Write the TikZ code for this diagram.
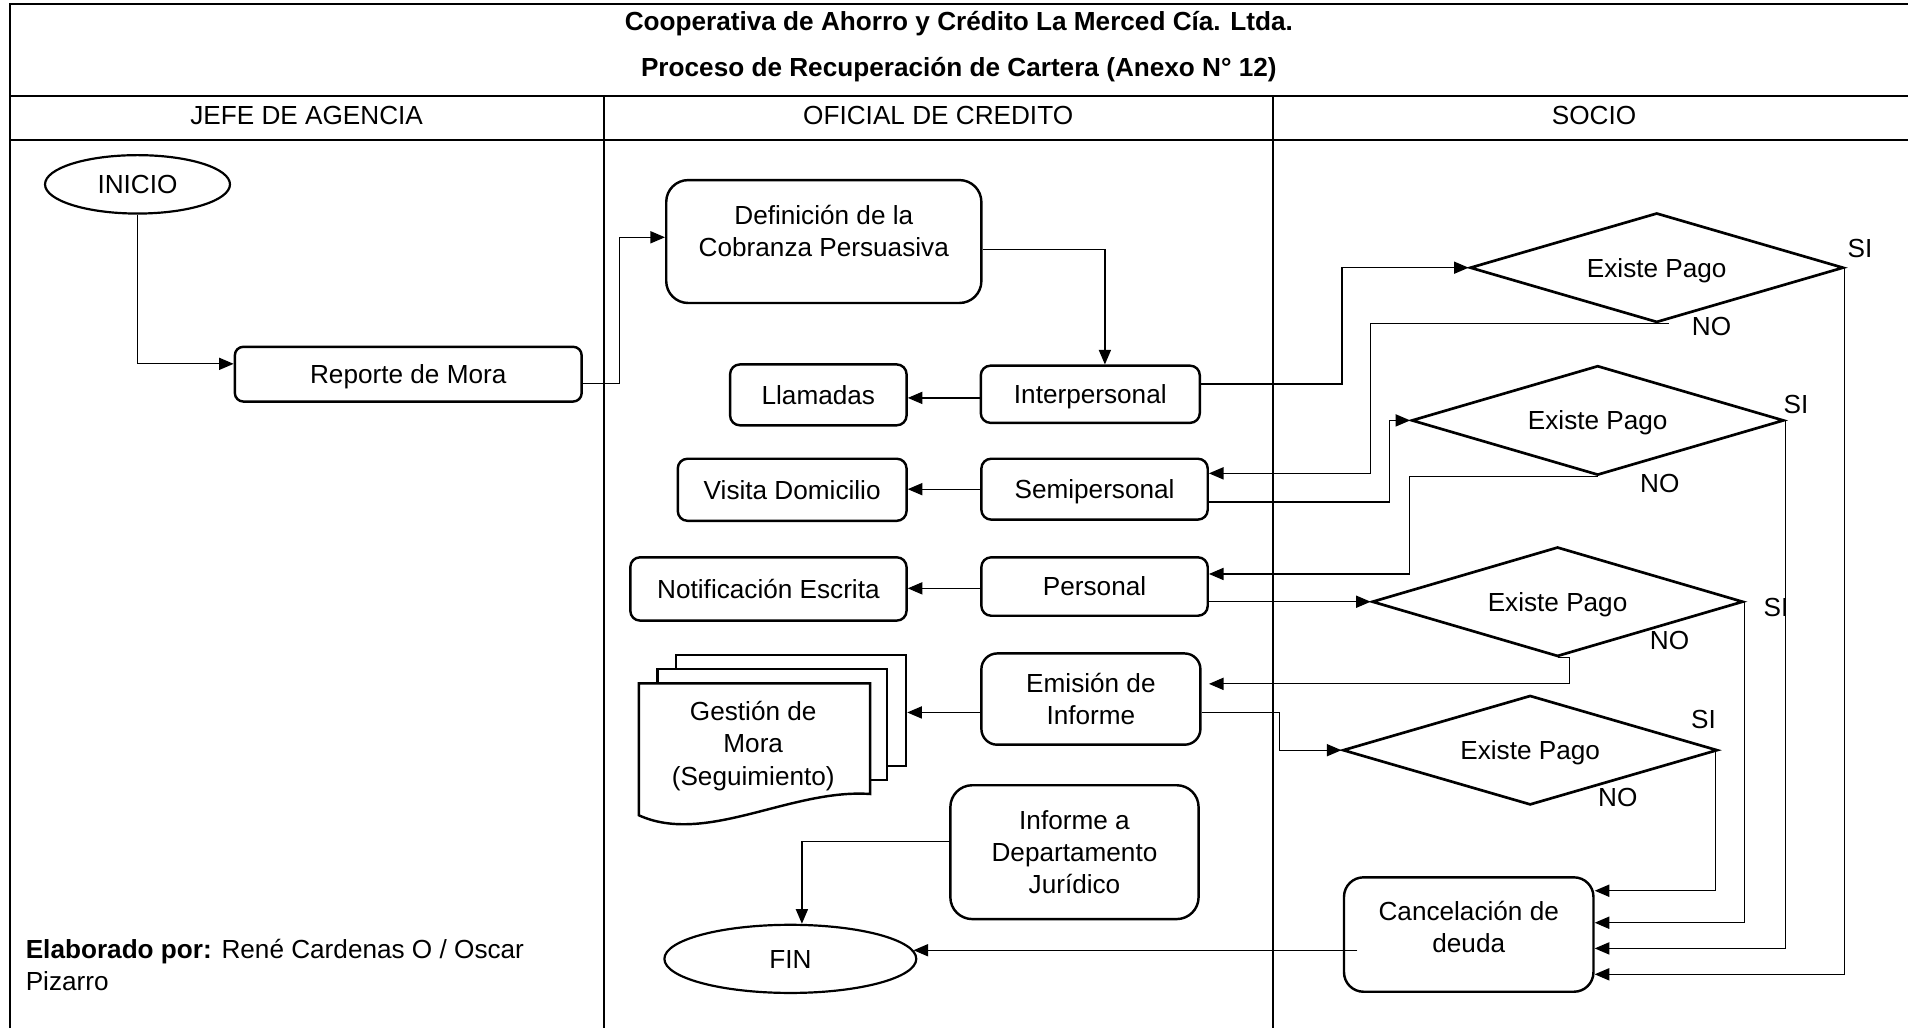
\documentclass[tikz,border=0pt]{standalone}
\usepackage{fontspec}
\setmainfont{Liberation Sans}
\usetikzlibrary{shapes.geometric,arrows.meta,calc}

\begin{document}
\begin{tikzpicture}[x=1pt,y=-1pt,
  txt/.style={font=\fontsize{21.5}{26.5}\selectfont, align=center, inner sep=0pt},
  one/.style={text height=15.5pt, text depth=0pt},
  proc/.style={draw, line width=2pt, rectangle, inner sep=0pt, txt},
  term/.style={draw, line width=1.8pt, ellipse, inner sep=0pt, txt, one},
  dec/.style={draw, line width=2.2pt, diamond, aspect=3.4, inner sep=0pt, txt, one},
  arr/.style={line width=1pt, -{Triangle[length=12pt,width=10pt]}},
  frame/.style={line width=1.6pt},
  lbl/.style={txt},
]
\useasboundingbox (0,0) rectangle (1568,845);

% ---- frame, title and swimlane headers
\draw[frame] (8,845) -- (8,3) -- (1568,3);
\draw[frame] (8,79) -- (1568,79);
\draw[frame] (8,115) -- (1568,115);
\draw[frame] (496.5,79) -- (496.5,845);
\draw[frame] (1046,79) -- (1046,845);

\node[txt, one, font=\fontsize{21.5}{26.5}\selectfont\bfseries] (title1) at (788,17) {Cooperativa de Ahorro y Crédito La Merced Cía. Ltda.};
\node[txt, one, font=\fontsize{21.5}{26.5}\selectfont\bfseries] (title2) at (788,55) {Proceso de Recuperación de Cartera (Anexo N° 12)};
\node[txt, one] (lane1) at (252,94.5) {JEFE DE AGENCIA};
\node[txt, one] (lane2) at (771,94.5) {OFICIAL DE CREDITO};
\node[txt, one] (lane3) at (1310,94.5) {SOCIO};

% ---- JEFE DE AGENCIA
\node[term, minimum width=152pt, minimum height=48pt] (inicio) at (113,151.5) {INICIO};
\node[proc, one, minimum width=285pt, minimum height=45pt, rounded corners=7pt] (reporte) at (335.5,307.5) {Reporte de Mora};
\node[txt, anchor=west, align=left] (autor) at (21,793)
  {\textbf{Elaborado por:} René Cardenas O / Oscar\\Pizarro};

% ---- OFICIAL DE CREDITO
\node[draw, line width=2pt, minimum width=259pt, minimum height=101pt, rounded corners=18pt] (defin) at (677,198.5) {};
\node[txt] (defintxt) at (677,190) {Definición de la\\Cobranza Persuasiva};
\node[proc, one, minimum width=180pt, minimum height=47pt, rounded corners=8pt] (interp) at (896,324) {Interpersonal};
\node[proc, one, minimum width=145pt, minimum height=50pt, rounded corners=8pt] (llam) at (672.5,324.5) {Llamadas};
\node[proc, one, minimum width=188pt, minimum height=51pt, rounded corners=8pt] (visita) at (651,402.5) {Visita Domicilio};
\node[proc, one, minimum width=186pt, minimum height=50pt, rounded corners=8pt] (semi) at (899.5,402) {Semipersonal};
\node[proc, one, minimum width=227pt, minimum height=52pt, rounded corners=8pt] (notif) at (631.5,484) {Notificación Escrita};
\node[proc, one, minimum width=186pt, minimum height=48pt, rounded corners=8pt] (personal) at (899.5,482) {Personal};
\node[proc, minimum width=180pt, minimum height=75pt, rounded corners=13pt] (emision) at (896.5,574.5) {Emisión de\\Informe};
\node[proc, minimum width=204pt, minimum height=110pt, rounded corners=18pt] (informe) at (883,700.3) {Informe a\\Departamento\\Jurídico};
\node[term, minimum width=207pt, minimum height=56pt] (fin) at (649.5,788) {FIN};

% stacked documents
\node[draw, line width=2pt, fill=white, minimum width=189pt, minimum height=91pt, inner sep=0pt] (gestion) at (650.1,583.9) {};
\draw[line width=2pt, fill=white] (540.5,550) rectangle (728.7,641);
\draw[line width=2pt, fill=white] (525,561.6) -- (715,561.6) -- (715,652.5)
  .. controls (650,648) and (580,695) .. (525,670) -- cycle;
\node[txt] (gestiontxt) at (619,613) {Gestión de\\Mora\\(Seguimiento)};

% ---- SOCIO
\node[dec, minimum width=307pt, minimum height=90pt] (d1) at (1361.5,220) {Existe Pago};
\node[dec, minimum width=306pt, minimum height=90pt] (d2) at (1313,345.5) {Existe Pago};
\node[dec, minimum width=305pt, minimum height=90pt] (d3) at (1280,494.5) {Existe Pago};
\node[dec, minimum width=308pt, minimum height=90pt] (d4) at (1257.5,616.5) {Existe Pago};
\node[proc, minimum width=205pt, minimum height=94pt, rounded corners=16pt] (cancel) at (1207,768) {};
\node[txt] (canceltxt) at (1207,762) {Cancelación de\\deuda};

\node[lbl] (si1) at (1528.5,204) {SI};
\node[lbl] (no1) at (1406.5,268.5) {NO};
\node[lbl] (si2) at (1476,332.5) {SI};
\node[lbl] (no2) at (1364,397) {NO};
\node[lbl] (si3) at (1459.5,499) {SI};
\node[lbl] (no3) at (1372,526.5) {NO};
\node[lbl] (si4) at (1400,591) {SI};
\node[lbl] (no4) at (1329.5,655.5) {NO};

% ---- connectors
\draw[arr] (inicio.south) |- ([yshift=8.5pt]reporte.west);
\draw[arr] ([yshift=-7.5pt]reporte.east) -- ++(30,0) |- ([yshift=3.5pt]defin.west);
\draw[arr] ([yshift=-6.5pt]defin.east) -| ([xshift=12pt]interp.north);
\draw[arr] ([yshift=-3pt]interp.west) -- ([yshift=-3pt]interp.west -| llam.east);
\draw[arr] (semi.west) -- (semi.west -| visita.east);
\draw[arr] ([yshift=-1.5pt]personal.west) -- ([yshift=-1.5pt]personal.west -| notif.east);
\draw[arr] ([yshift=-11pt]emision.west) -- ([yshift=-11pt]emision.west -| gestion.east);
\draw[arr] ([yshift=9pt]informe.west) -| ([xshift=9.5pt]fin.north);

\draw[arr] ([yshift=8.5pt]interp.east) -| ([xshift=-104pt]d1.west) -- (d1.west);
\draw[arr] ([xshift=10pt]d1.south) -- ++(-245.5,0) |- ([yshift=13pt]semi.east);
\draw[arr] ([yshift=-10.6pt]semi.east) -| ([xshift=-17pt]d2.west) -- (d2.west);
\draw[arr] (d2.south) -- ++(-155,0) |- ([yshift=10.3pt]personal.east);
\draw[arr] ([yshift=-12.5pt]personal.east) -- ([yshift=-12.5pt]personal.east -| d3.west);
\draw[arr, shorten >=6pt] (d3.south) -- ++(9.6,0) |- ([yshift=12.5pt]emision.east);
\draw[arr] ([yshift=-11pt]emision.east) -- ++(64,0) |- (d4.west);

\draw[arr] ([xshift=-3pt]d4.east) |- ([yshift=36pt]cancel.east);
\draw[arr] (d3.east) |- ([yshift=9.7pt]cancel.east);
\draw[arr] (d2.east) |- ([yshift=-11.4pt]cancel.east);
\draw[arr] (d1.east) |- ([yshift=-32.7pt]cancel.east);
\draw[arr] ([xshift=12pt]cancel.west |- fin.4.5) -- (fin.4.5);
\end{tikzpicture}
\end{document}
